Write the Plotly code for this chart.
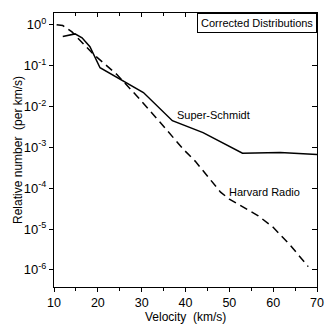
import math
import plotly.graph_objects as go

# Data
ss_x = [12.0, 14.8, 16.4, 18.2, 20.5, 30.4, 37.0, 44.0, 53.0, 61.6, 70.0]
ss_y = [0.52, 0.60, 0.48, 0.29, 0.089, 0.022, 0.0045, 0.0023, 0.00072, 0.00075, 0.00067]

hr_x = [10.6, 12.0, 14.1, 19.0, 24.4, 29.6, 34.2, 39.5, 42.2, 48.0, 50.0, 56.6, 60.0, 64.0, 68.0]
hr_y = [1.0, 0.96, 0.67, 0.19, 0.06, 0.015, 0.0041, 0.0009, 0.00046, 0.00008, 0.000054, 0.000021, 0.000011, 0.0000039, 0.0000012]

x_ticks = [10, 20, 30, 40, 50, 60, 70]
x_minor = [15, 25, 35, 45, 55, 65]
y_tickvals = [1, 1e-1, 1e-2, 1e-3, 1e-4, 1e-5, 1e-6]
y_ticktext = ["10<sup>0</sup>", "10<sup>-1</sup>", "10<sup>-2</sup>", "10<sup>-3</sup>",
              "10<sup>-4</sup>", "10<sup>-5</sup>", "10<sup>-6</sup>"]

FONT = "Arial, Liberation Sans, sans-serif"

fig = go.Figure()
fig.add_trace(go.Scatter(x=ss_x, y=ss_y, mode="lines", name="Super-Schmidt",
                         line=dict(color="black", width=1.5)))
fig.add_trace(go.Scatter(x=hr_x, y=hr_y, mode="lines", name="Harvard Radio",
                         line=dict(color="black", width=1.5, dash="8px,5px")))
# invisible trace for mirrored axes
fig.add_trace(go.Scatter(x=[10], y=[1], xaxis="x2", yaxis="y2", mode="markers",
                         marker=dict(opacity=0), showlegend=False, hoverinfo="skip"))

yr = [-6.42, 0.29]
fig.update_layout(
    width=326, height=324, autosize=False,
    margin=dict(l=54, r=9, t=13, b=37, autoexpand=False),
    paper_bgcolor="white", plot_bgcolor="white",
    showlegend=False,
    font=dict(family=FONT, color="black", size=13),
    xaxis=dict(range=[10, 70], tickvals=x_ticks, ticks="outside", ticklen=4,
               tickwidth=1, tickcolor="black", showline=True, linecolor="black",
               linewidth=1.3, showgrid=False, zeroline=False, automargin=False,
               tickfont=dict(size=12.5, family=FONT),
               minor=dict(tickvals=x_minor, ticks="outside", ticklen=3, tickcolor="black")),
    yaxis=dict(type="log", range=yr, tickvals=y_tickvals, ticktext=y_ticktext,
               ticks="outside", ticklen=4, tickwidth=1, tickcolor="black",
               showline=True, linecolor="black", linewidth=1.3, showgrid=False,
               zeroline=False, automargin=False, tickfont=dict(size=13, family=FONT)),
    xaxis2=dict(range=[10, 70], overlaying="x", side="top", anchor="y2",
                tickvals=x_ticks, ticks="inside", ticklen=4, tickcolor="black",
                showticklabels=False, showline=True, linecolor="black", linewidth=1.3,
                showgrid=False, zeroline=False, automargin=False,
                minor=dict(tickvals=x_minor, ticks="inside", ticklen=3, tickcolor="black")),
    yaxis2=dict(type="log", range=yr, overlaying="y", side="right", anchor="x2",
                tickvals=y_tickvals, ticks="inside", ticklen=5, tickcolor="black",
                showticklabels=False, showline=True, linecolor="black", linewidth=1.3,
                showgrid=False, zeroline=False, automargin=False),
)

fig.add_annotation(xref="paper", yref="paper", x=1, y=1, xanchor="right", yanchor="top",
                   text="Corrected Distributions", showarrow=False,
                   font=dict(size=11, family=FONT), bordercolor="black", borderwidth=1,
                   borderpad=3, bgcolor="white")
fig.add_annotation(xref="x", yref="y", x=46.5, y=math.log10(0.0063), text="Super-Schmidt",
                   showarrow=False, font=dict(size=11, family=FONT))
fig.add_annotation(xref="x", yref="y", x=58, y=math.log10(0.000081), text="Harvard Radio",
                   showarrow=False, font=dict(size=11, family=FONT))
fig.add_annotation(xref="paper", yref="paper", x=-0.137, y=0.5, textangle=-90,
                   text="Relative number  (per km/s)", showarrow=False,
                   font=dict(size=12, family=FONT), xanchor="center", yanchor="middle")
fig.add_annotation(xref="paper", yref="paper", x=0.5, y=-0.11,
                   text="Velocity  (km/s)", showarrow=False,
                   font=dict(size=12, family=FONT), xanchor="center", yanchor="middle")

fig.write_html("out.html", config={"responsive": False})
